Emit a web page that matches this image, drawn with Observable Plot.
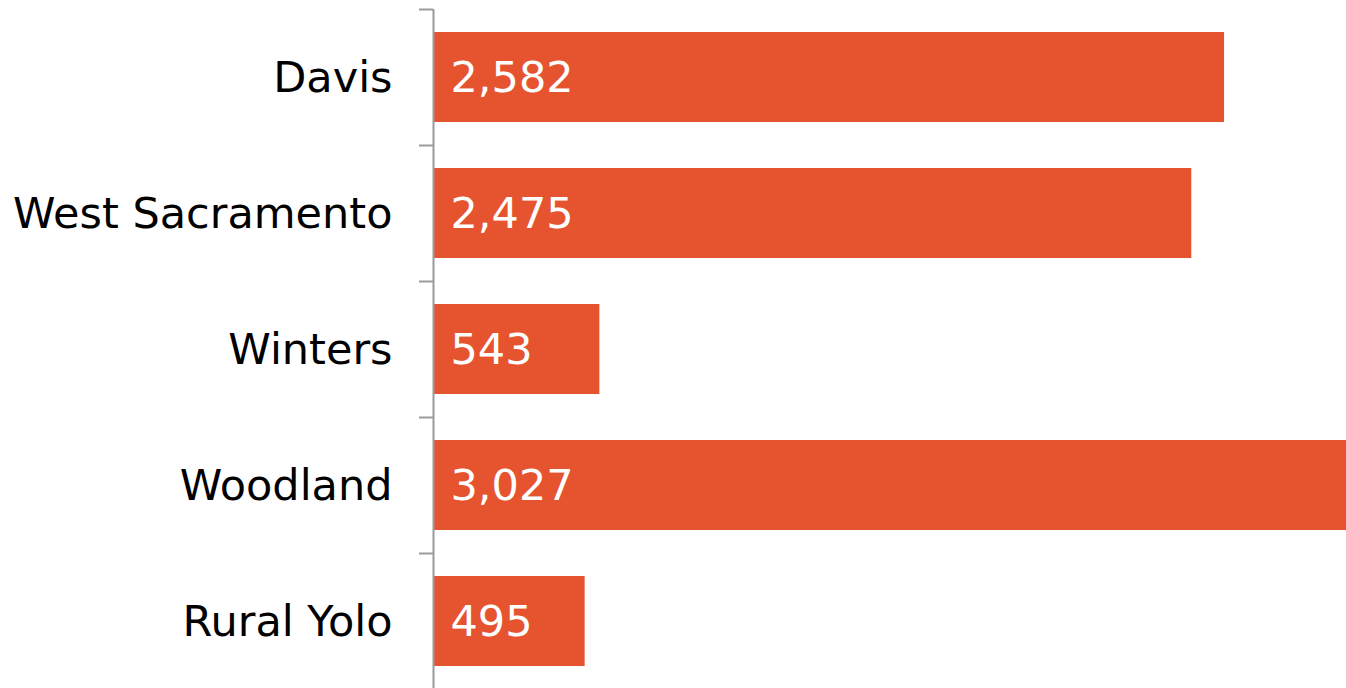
<!DOCTYPE html>
<html>
<head>
<meta charset="utf-8">
<script src="https://cdn.jsdelivr.net/npm/d3@7"></script>
<script src="https://cdn.jsdelivr.net/npm/@observablehq/plot@0.6"></script>
<style>
  html, body { margin: 0; padding: 0; background: #fff; overflow: hidden; }
  #chart svg { display: block; }
</style>
</head>
<body>
<div id="chart"></div>
<script>
const categories = ["Davis", "West Sacramento", "Winters", "Woodland", "Rural Yolo"];
const values = [2582, 2475, 543, 3027, 495];

const data = categories.map((c, i) => ({category: c, value: values[i]}));

const W = 1346, H = 688, mTop = 9, mBottom = -1, mLeft = 433;
const step = (H - mTop - mBottom) / categories.length;
const barColor = "#E6542F";
const axisColor = "#9a9a9a";

const chart = Plot.plot({
  width: W,
  height: H,
  marginTop: mTop,
  marginBottom: mBottom,
  marginLeft: mLeft,
  marginRight: 0,
  style: {fontFamily: "DejaVu Sans, Verdana, sans-serif", fontSize: "43px", background: "#fff", color: "#000"},
  x: {domain: [0, 2980], clamp: true, axis: null},
  y: {domain: categories, paddingInner: 0.338, paddingOuter: 0.169, round: false, axis: null},
  marks: [
    Plot.barX(data, {y: "category", x: "value", fill: barColor}),
    Plot.text(data, {
      y: "category", x: 0, text: d => d3.format(",")(d.value),
      textAnchor: "start", dx: 17, dy: 1, fill: "#fff", fontSize: 43
    }),
    Plot.axisY({tickSize: 0, tickPadding: 41, fontSize: 43, fill: "#000", dy: 1, label: null}),
    Plot.axisY({tickSize: 14, tickFormat: () => "", stroke: axisColor, strokeWidth: 2, dy: -step / 2, label: null}),
    Plot.ruleX([0], {stroke: axisColor, strokeWidth: 2})
  ]
});
document.getElementById("chart").append(chart);
</script>
</body>
</html>
